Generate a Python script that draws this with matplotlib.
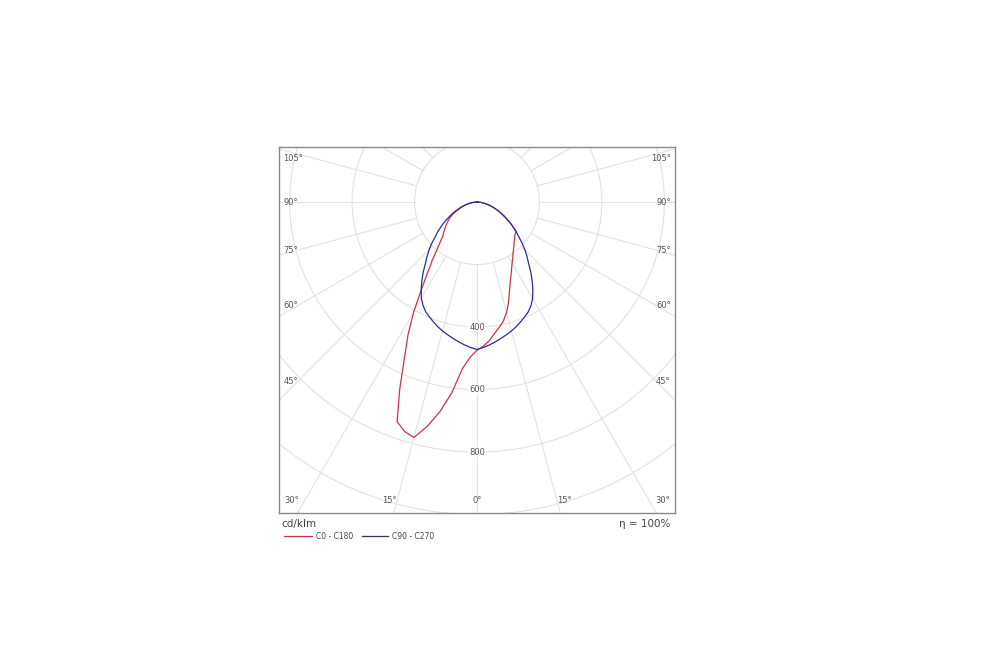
import numpy as np
import matplotlib
matplotlib.use("Agg")
import matplotlib.pyplot as plt
from matplotlib.patches import Circle
from matplotlib.lines import Line2D

# angles (deg from nadir) and intensities in cd/klm
gamma = [0, 2.5, 5, 7.5, 10, 12.5, 15, 17.5, 20, 22.5, 25, 27.5, 30, 32.5, 35,
         37.5, 40, 42.5, 45, 47.5, 50, 52.5, 55, 57.5, 60, 62.5, 65, 67.5, 70,
         72.5, 75, 77.5, 80, 82.5, 85, 87.5, 90]

# C0 - C180 plane (asymmetric)
c0 = [474, 462, 446, 425, 408, 390, 366, 336, 304, 278, 258, 240, 225, 213, 201,
      192, 184, 176, 170, 164, 159, 158, 143, 128, 112, 98, 85, 73, 62,
      52, 42, 33, 24, 16, 10, 4, 0]
c180 = [474, 497, 535, 615, 680, 735, 780, 770, 748, 646, 549, 478, 405, 330, 275,
        235, 200, 175, 155, 145, 135, 126, 117, 108, 100, 90, 78, 68, 57,
        48, 40, 32, 24, 17, 11, 5, 0]

# C90 - C270 plane (symmetric)
c90 = [472, 466, 459, 451, 443, 435, 427, 418, 408, 398, 388, 374, 356, 333, 308,
       283, 257, 237, 217, 197, 176, 160, 143, 128, 112, 98, 85, 73, 62,
       52, 42, 33, 24, 16, 10, 4, 0]
c270 = c90

rings = [200, 400, 600, 800, 1000, 1200]
ring_labels = [400, 600, 800]
side_angles = [45, 60, 75, 90, 105]
bottom_angles = [0, 15, 30]


def to_xy(ang, vals, side):
    a = np.radians(ang)
    v = np.array(vals, dtype=float)
    return side * v * np.sin(a), -v * np.cos(a)


fig = plt.figure(figsize=(10, 6.67), dpi=100)
ax = fig.add_axes([0.279, 0.2309, 0.396, 0.5487])
ax.set_xlim(-634, 634)
ax.set_ylim(-995, 176)
ax.set_xticks([])
ax.set_yticks([])
for s in ax.spines.values():
    s.set_color("#8a8a8a")
    s.set_linewidth(1.0)

# polar grid: rings + 15 degree spokes starting outside the 200 ring
grid_col = "#e2e2e2"
for r in rings:
    ax.add_patch(Circle((0, 0), r, fill=False, ec=grid_col, lw=0.8, zorder=1))
for a in np.arange(0, 360, 15):
    t = np.radians(a)
    ax.plot([200 * np.sin(t), 1400 * np.sin(t)], [-200 * np.cos(t), -1400 * np.cos(t)],
            color=grid_col, lw=0.8, zorder=1)

lab_col = "#555555"
for r in ring_labels:
    ax.text(0, -r, str(r), ha="center", va="center", fontsize=6, color=lab_col,
            bbox=dict(fc="white", ec="none", pad=0.6), zorder=2)

for a in side_angles:
    y = -575 / np.tan(np.radians(a)) if a != 90 else 0
    y = min(y, 138)
    ax.text(-620, y, f"{a}°", ha="left", va="center", fontsize=6, color=lab_col, zorder=2)
    ax.text(620, y, f"{a}°", ha="right", va="center", fontsize=6, color=lab_col, zorder=2)
for a in bottom_angles:
    x = min(1050 * np.tan(np.radians(a)), 595)
    ax.text(-x, -955, f"{a}°", ha="center", va="center", fontsize=6, color=lab_col, zorder=2)
    if a != 0:
        ax.text(x, -955, f"{a}°", ha="center", va="center", fontsize=6, color=lab_col, zorder=2)

red = "#cc3347"
blue = "#2b2b9c"
xr, yr = to_xy(gamma, c0, 1)
xl, yl = to_xy(gamma, c180, -1)
ax.plot(np.concatenate([xl[::-1], xr]), np.concatenate([yl[::-1], yr]), color=red, lw=0.9, zorder=3)
xr, yr = to_xy(gamma, c90, 1)
xl, yl = to_xy(gamma, c270, -1)
ax.plot(np.concatenate([xl[::-1], xr]), np.concatenate([yl[::-1], yr]), color=blue, lw=0.9, zorder=4)

# footer
fig.text(0.281, 0.214, "cd/klm", ha="left", va="center", fontsize=7.5, color="#444444")
fig.text(0.670, 0.214, "η = 100%", ha="right", va="center", fontsize=7.5, color="#444444")
fig.add_artist(Line2D([0.284, 0.312], [0.196, 0.196], color=red, lw=0.9))
fig.text(0.316, 0.196, "C0 - C180", ha="left", va="center", fontsize=5.5, color="#444444")
fig.add_artist(Line2D([0.362, 0.388], [0.196, 0.196], color="#333355", lw=0.9))
fig.text(0.392, 0.196, "C90 - C270", ha="left", va="center", fontsize=5.5, color="#444444")

fig.savefig("out.png", dpi=100, facecolor="white")
